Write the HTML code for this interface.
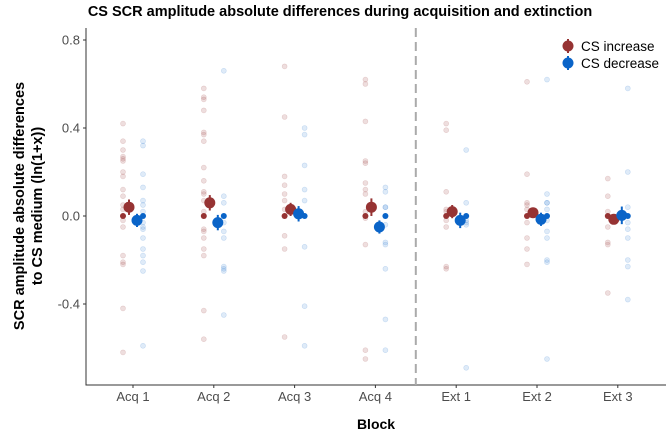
<!DOCTYPE html>
<html><head><meta charset="utf-8"><style>
body{margin:0;background:#fff;}
svg{display:block;font-family:"Liberation Sans",Arial,sans-serif;}
</style></head><body>
<svg id="chart" width="672" height="434"></svg>
<script>
const categories=["Acq 1","Acq 2","Acq 3","Acq 4","Ext 1","Ext 2","Ext 3"];
const yTicks=[0.8,0.4,0.0,-0.4];
const yTickLabels=["0.8","0.4","0.0","-0.4"];
const incMeans=[0.04,0.06,0.03,0.04,0.02,0.015,-0.015];
const incErr=[0.035,0.035,0.03,0.04,0.03,0.02,0.02];
const decMeans=[-0.02,-0.03,0.01,-0.05,-0.02,-0.015,0.003];
const decErr=[0.03,0.035,0.035,0.03,0.035,0.03,0.04];
const incRaw=[
[0.42,0.34,0.30,0.27,0.26,0.25,0.20,0.18,0.12,0.09,0.05,0.03,0,-0.02,-0.05,-0.18,-0.21,-0.22,-0.42,-0.62],
[0.58,0.54,0.53,0.48,0.38,0.37,0.34,0.22,0.16,0.11,0.10,0.07,0.02,0,-0.06,-0.07,-0.10,-0.15,-0.18,-0.43,-0.56],
[0.68,0.45,0.18,0.14,0.10,0.07,0.03,0,-0.09,-0.15,-0.55],
[0.62,0.60,0.43,0.25,0.24,0.15,0.12,0.10,0.02,0,-0.01,-0.13,-0.61,-0.65],
[0.42,0.39,0.11,0.03,0.02,0,-0.02,-0.05,-0.23,-0.24],
[0.61,0.19,0.06,0.05,0.03,0,-0.03,-0.10,-0.15,-0.22],
[0.17,0.09,0.02,0,-0.05,-0.12,-0.13,-0.35]];
const decRaw=[
[0.34,0.32,0.19,0.13,0.07,0.05,0.02,0,-0.03,-0.05,-0.06,-0.10,-0.15,-0.18,-0.21,-0.25,-0.59],
[0.66,0.09,0.06,0,-0.03,-0.07,-0.10,-0.23,-0.24,-0.25,-0.45],
[0.40,0.37,0.23,0.12,0.07,0,-0.14,-0.41,-0.59],
[0.13,0.11,0.04,0.04,0,-0.04,-0.12,-0.13,-0.24,-0.47,-0.61],
[0.30,0.06,0,-0.02,-0.03,-0.04,-0.69],
[0.62,0.10,0.06,0.06,0.03,0,-0.02,-0.07,-0.10,-0.20,-0.21,-0.65],
[0.58,0.20,0.04,0,-0.03,-0.06,-0.10,-0.20,-0.23,-0.38]];

const NS="http://www.w3.org/2000/svg";
const svg=document.getElementById('chart');
const L=86,R=666,T=28,B=385;
const x=i=>133+i*80.8;
const y=v=>216-v*220;
const RED="#963333",BLUE="#0a64c8";
function mk(tag,attrs,parent){const e=document.createElementNS(NS,tag);for(const k in attrs)e.setAttribute(k,attrs[k]);(parent||svg).appendChild(e);return e;}

let t=mk('text',{x:340,y:16,'text-anchor':'middle','font-size':14.5,'font-weight':'bold',fill:'#000'});
t.textContent="CS SCR amplitude absolute differences during acquisition and extinction";



let ax=mk('path',{d:`M${L},${T} V${B} H${R}`,stroke:'#333',fill:'none','stroke-width':1});



yTicks.forEach((v,i)=>{
  const tk=mk('line',{x1:L-3,x2:L,y1:y(v),y2:y(v),stroke:'#333'});
  
  
  const lb=mk('text',{x:L-6,y:y(v)+4.5,'text-anchor':'end','font-size':13,fill:'#4d4d4d'});
  lb.textContent=yTickLabels[i];
  
  
});
categories.forEach((c,i)=>{
  const tk=mk('line',{x1:x(i),x2:x(i),y1:B,y2:B+3,stroke:'#333'});
  
  
  const lb=mk('text',{x:x(i),y:B+16,'text-anchor':'middle','font-size':13,fill:'#4d4d4d'});
  lb.textContent=c;
  
  
});

let dv=mk('line',{x1:(x(3)+x(4))/2,x2:(x(3)+x(4))/2,y1:T,y2:B,stroke:'#aaa','stroke-width':2,'stroke-dasharray':'9,5'});



let xt=mk('text',{x:376,y:429,'text-anchor':'middle','font-size':14,'font-weight':'bold'});
xt.textContent="Block";


let yt=mk('text',{transform:'translate(0,206) rotate(-90)','text-anchor':'middle','font-size':14.5,'font-weight':'bold'});


let s1=mk('tspan',{x:0,y:24},yt);s1.textContent="SCR amplitude absolute differences";
let s2=mk('tspan',{x:0,y:42},yt);s2.textContent="to CS medium (ln(1+x))";

categories.forEach((c,i)=>{
  incRaw[i].forEach(v=>{
    const p=mk('circle',{cx:x(i)-10,cy:y(v),r:2.5,fill:RED,'fill-opacity':0.16,stroke:RED,'stroke-opacity':0.18,'stroke-width':0.6});
    
    
  });
  decRaw[i].forEach(v=>{
    const p=mk('circle',{cx:x(i)+10,cy:y(v),r:2.5,fill:BLUE,'fill-opacity':0.13,stroke:BLUE,'stroke-opacity':0.18,'stroke-width':0.6});
    
    
  });
  const mr=mk('circle',{cx:x(i)-10,cy:y(0),r:3,fill:RED});
  
  
  const mb=mk('circle',{cx:x(i)+10,cy:y(0),r:3,fill:BLUE});
  
  
  const er=mk('line',{x1:x(i)-4,x2:x(i)-4,y1:y(incMeans[i]+incErr[i]),y2:y(incMeans[i]-incErr[i]),stroke:RED,'stroke-width':2});
  
  
  const pr=mk('circle',{cx:x(i)-4,cy:y(incMeans[i]),r:5.5,fill:RED});
  
  
  const eb=mk('line',{x1:x(i)+4,x2:x(i)+4,y1:y(decMeans[i]+decErr[i]),y2:y(decMeans[i]-decErr[i]),stroke:BLUE,'stroke-width':2});
  
  
  const pb=mk('circle',{cx:x(i)+4,cy:y(decMeans[i]),r:5.5,fill:BLUE});
  
  
});

const legLabels=["CS increase","CS decrease"],legCols=[RED,BLUE];
legLabels.forEach((lab,k)=>{
  const g=mk('g',{});
  
  
  const cy=46+k*17;
  mk('line',{x1:568,x2:568,y1:cy-7,y2:cy+7,stroke:legCols[k],'stroke-width':2},g);
  mk('circle',{cx:568,cy:cy,r:5.5,fill:legCols[k]},g);
  const tx=mk('text',{x:581,y:cy+5,'font-size':13.5,fill:'#000'},g);
  tx.textContent=lab;
});
</script>
</body></html>
